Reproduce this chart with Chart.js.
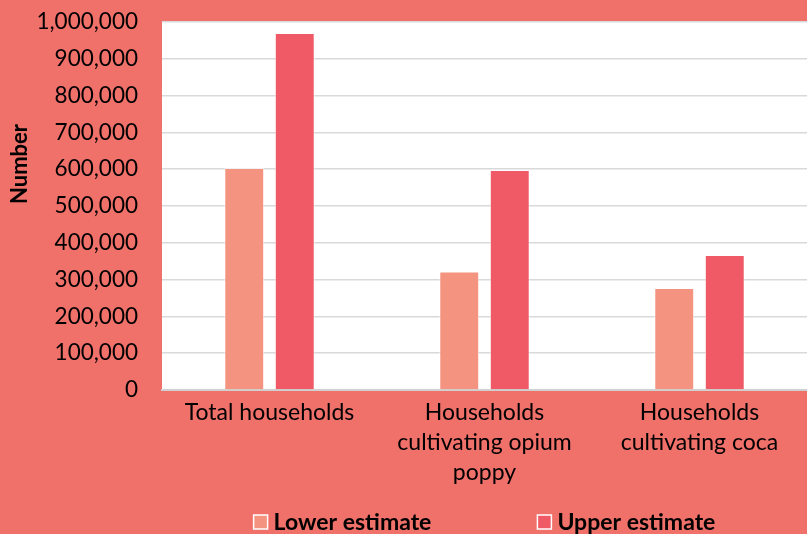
<!DOCTYPE html>
<html>
<head>
<meta charset="utf-8">
<script src="https://cdn.jsdelivr.net/npm/chart.js@4"></script>
<style>
  html, body { margin: 0; padding: 0; background: #F0706A; }
  #wrap { width: 807px; height: 534px; position: relative; }
</style>
</head>
<body>
<div id="wrap"><canvas id="c" width="807" height="534"></canvas></div>
<script>
const categories = ["Total households", ["Households", "cultivating opium", "poppy"], ["Households", "cultivating coca"]];
const lowerEstimate = [603000, 322000, 277000];
const upperEstimate = [970000, 598000, 367000];
const seriesNames = ["Lower estimate", "Upper estimate"];
const yAxisTitle = "Number";
const yTicks = { min: 0, max: 1000000, step: 100000 };

const BG = '#F0706A';
const LOWER = '#F4937F';
const UPPER = '#F05A67';
const FONT = 'Lato, "Open Sans", sans-serif';

const plotBg = {
  id: 'plotBg',
  beforeDraw(chart) {
    const { ctx, chartArea: a } = chart;
    ctx.save();
    ctx.fillStyle = BG;
    ctx.fillRect(0, 0, chart.width, chart.height);
    ctx.fillStyle = '#FFFFFF';
    ctx.fillRect(a.left, a.top, a.right - a.left, a.bottom - a.top);
    ctx.restore();
  }
};

// y-axis title, placed as in the reference (above the axis midpoint)
const yTitle = {
  id: 'yTitle',
  afterDraw(chart) {
    const { ctx } = chart;
    ctx.save();
    ctx.translate(20, 164);
    ctx.rotate(-Math.PI / 2);
    ctx.font = 'bold 22px ' + FONT;
    ctx.fillStyle = '#000';
    ctx.textAlign = 'center';
    ctx.textBaseline = 'middle';
    ctx.fillText(yAxisTitle, 0, 0);
    ctx.restore();
  }
};

// legend drawn below the x labels, centred on the plot area
const bottomLegend = {
  id: 'bottomLegend',
  afterDraw(chart) {
    const { ctx, chartArea: a } = chart;
    const ds = chart.data.datasets;
    ctx.save();
    ctx.font = 'bold 23px ' + FONT;
    ctx.textBaseline = 'middle';
    const box = 14, gapText = 6, gapItem = 106;
    const widths = ds.map(d => box + gapText + ctx.measureText(d.label).width);
    const total = widths.reduce((s, w) => s + w, 0) + gapItem * (ds.length - 1);
    let x = (a.left + a.right) / 2 - total / 2;
    const y = 522;
    ds.forEach((d, i) => {
      ctx.fillStyle = d.backgroundColor;
      ctx.fillRect(x, y - box / 2, box, box);
      ctx.strokeStyle = '#FFFFFF';
      ctx.lineWidth = 1.5;
      ctx.strokeRect(x, y - box / 2, box, box);
      ctx.fillStyle = '#000';
      ctx.fillText(d.label, x + box + gapText, y + 1);
      x += widths[i] + gapItem;
    });
    ctx.restore();
  }
};

new Chart(document.getElementById('c'), {
  type: 'bar',
  data: {
    labels: categories,
    datasets: [
      { label: seriesNames[0], data: lowerEstimate, backgroundColor: LOWER, borderColor: 'rgba(255,255,255,0.6)', borderWidth: 1 },
      { label: seriesNames[1], data: upperEstimate, backgroundColor: UPPER, borderColor: 'rgba(255,255,255,0.6)', borderWidth: 1 }
    ]
  },
  options: {
    responsive: false,
    animation: false,
    devicePixelRatio: 1,
    layout: { padding: { top: 22, right: 0, left: 0, bottom: 0 } },
    datasets: { bar: { categoryPercentage: 0.47, barPercentage: 0.79 } },
    scales: {
      x: {
        grid: { display: false, drawTicks: false },
        border: { display: true, color: '#D0D0D0', width: 2 },
        ticks: { color: '#000', font: { family: FONT, size: 23, lineHeight: 1.3 }, padding: 8, maxRotation: 0, autoSkip: false },
        afterFit(s) { s.height = 144; }
      },
      y: {
        min: yTicks.min, max: yTicks.max,
        grid: { color: '#D9D9D9', lineWidth: 1.5, drawTicks: true, tickLength: 24, tickColor: 'rgba(0,0,0,0)' },
        border: { display: false },
        ticks: {
          stepSize: yTicks.step, color: '#000', padding: 0, autoSkip: false,
          font: { family: FONT, size: 22.5 },
          callback: v => v.toLocaleString('en-US')
        },
        title: { display: false },
        afterFit(s) { s.width = 162; }
      }
    },
    plugins: {
      legend: { display: false },
      tooltip: { enabled: false }
    }
  },
  plugins: [plotBg, yTitle, bottomLegend]
});
</script>
</body>
</html>
